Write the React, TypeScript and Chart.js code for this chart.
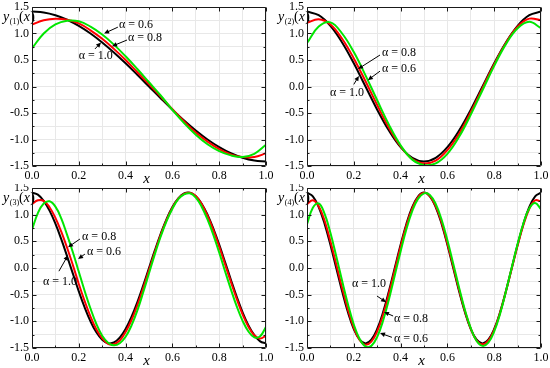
import React, { useEffect, useRef } from "react";
import { Chart, registerables } from "chart.js";
Chart.register(...registerables);

const SERIF = '"Liberation Serif", "Times New Roman", serif';

// sampling positions
const X21 = [0, 0.05, 0.1, 0.15, 0.2, 0.25, 0.3, 0.35, 0.4, 0.45, 0.5, 0.55, 0.6, 0.65, 0.7, 0.75, 0.8, 0.85, 0.9, 0.95, 1.0];
const X41 = [0, 0.025, 0.05, 0.075, 0.1, 0.125, 0.15, 0.175, 0.2, 0.225, 0.25, 0.275, 0.3, 0.325, 0.35, 0.375, 0.4, 0.425, 0.45, 0.475, 0.5,
  0.525, 0.55, 0.575, 0.6, 0.625, 0.65, 0.675, 0.7, 0.725, 0.75, 0.775, 0.8, 0.825, 0.85, 0.875, 0.9, 0.925, 0.95, 0.975, 1.0];

// panel 1: y(1)(x)
const Y1_A10 = [1.414, 1.397, 1.345, 1.26, 1.144, 1.0, 0.831, 0.642, 0.437, 0.221, 0.0, -0.221, -0.437, -0.642, -0.831, -1.0, -1.144, -1.26, -1.345, -1.397, -1.414];
const Y1_A08 = [1.17, 1.25, 1.28, 1.26, 1.19, 1.06, 0.9, 0.71, 0.5, 0.27, 0.04, -0.19, -0.43, -0.66, -0.87, -1.04, -1.18, -1.28, -1.33, -1.33, -1.26];
const Y1_A06 = [0.72, 1.0, 1.17, 1.24, 1.23, 1.13, 0.98, 0.79, 0.57, 0.33, 0.08, -0.17, -0.44, -0.69, -0.91, -1.09, -1.22, -1.3, -1.33, -1.27, -1.1];

// panel 2: y(2)(x)
const Y2_A10 = [1.414, 1.345, 1.144, 0.831, 0.437, 0.0, -0.437, -0.831, -1.144, -1.345, -1.414, -1.345, -1.144, -0.831, -0.437, 0.0, 0.437, 0.831, 1.144, 1.345, 1.414];
const Y2_A08 = [1.2, 1.27, 1.17, 0.9, 0.53, 0.1, -0.35, -0.78, -1.13, -1.37, -1.45, -1.4, -1.2, -0.89, -0.48, -0.03, 0.42, 0.82, 1.13, 1.28, 1.25];
const Y2_A06 = [0.82, 1.13, 1.21, 1.0, 0.65, 0.21, -0.26, -0.72, -1.11, -1.38, -1.48, -1.45, -1.27, -0.95, -0.53, -0.07, 0.39, 0.8, 1.1, 1.22, 1.1];

// panel 3: y(3)(x)
const Y3_A10 = [1.414, 1.375, 1.26, 1.075, 0.831, 0.541, 0.221, -0.111, -0.437, -0.739, -1.0, -1.206, -1.345, -1.41, -1.397, -1.307, -1.144, -0.918, -0.642, -0.33, 0.0,
  0.33, 0.642, 0.918, 1.144, 1.307, 1.397, 1.41, 1.345, 1.206, 1.0, 0.739, 0.437, 0.111, -0.221, -0.541, -0.831, -1.075, -1.26, -1.375, -1.414];
const Y3_A08 = [1.2, 1.27, 1.26, 1.14, 0.94, 0.68, 0.38, 0.05, -0.3, -0.62, -0.91, -1.15, -1.32, -1.42, -1.43, -1.36, -1.2, -0.98, -0.7, -0.38, -0.04,
  0.3, 0.62, 0.9, 1.13, 1.3, 1.39, 1.41, 1.35, 1.2, 0.98, 0.71, 0.4, 0.07, -0.26, -0.58, -0.87, -1.1, -1.26, -1.32, -1.27];
const Y3_A06 = [0.72, 1.03, 1.21, 1.25, 1.15, 0.93, 0.62, 0.29, -0.07, -0.43, -0.76, -1.05, -1.27, -1.4, -1.45, -1.41, -1.29, -1.08, -0.8, -0.46, -0.1,
  0.26, 0.59, 0.88, 1.11, 1.29, 1.38, 1.4, 1.32, 1.15, 0.91, 0.62, 0.29, -0.06, -0.4, -0.72, -0.99, -1.19, -1.3, -1.28, -1.1];

// panel 4: y(4)(x)
const Y4_A10 = [1.414, 1.345, 1.144, 0.831, 0.437, 0.0, -0.437, -0.831, -1.144, -1.345, -1.414, -1.345, -1.144, -0.831, -0.437, 0.0, 0.437, 0.831, 1.144, 1.345, 1.414,
  1.345, 1.144, 0.831, 0.437, 0.0, -0.437, -0.831, -1.144, -1.345, -1.414, -1.345, -1.144, -0.831, -0.437, 0.0, 0.437, 0.831, 1.144, 1.345, 1.414];
const Y4_A08 = [1.2, 1.27, 1.16, 0.89, 0.5, 0.07, -0.37, -0.78, -1.12, -1.35, -1.44, -1.38, -1.19, -0.88, -0.48, -0.04, 0.4, 0.8, 1.12, 1.33, 1.41,
  1.35, 1.16, 0.86, 0.46, 0.03, -0.41, -0.81, -1.14, -1.36, -1.43, -1.36, -1.16, -0.84, -0.44, -0.01, 0.42, 0.81, 1.11, 1.27, 1.25];
const Y4_A06 = [0.82, 1.13, 1.21, 1.02, 0.66, 0.22, -0.24, -0.68, -1.06, -1.33, -1.47, -1.46, -1.29, -0.99, -0.59, -0.14, 0.31, 0.73, 1.07, 1.3, 1.4,
  1.37, 1.2, 0.91, 0.52, 0.08, -0.37, -0.79, -1.13, -1.37, -1.46, -1.4, -1.19, -0.86, -0.44, 0.01, 0.45, 0.84, 1.12, 1.22, 1.1];

const LABEL_10 = "α = 1.0";
const LABEL_08 = "α = 0.8";
const LABEL_06 = "α = 0.6";

type Ann = { text: string; tx: number; ty: number; ax: number; ay: number; bx: number; by: number };

const ANN1: Ann[] = [
  { text: LABEL_06, tx: 0.372, ty: 1.16, ax: 0.367, ay: 1.12, bx: 0.308, by: 1.0 },
  { text: LABEL_08, tx: 0.41, ty: 0.915, ax: 0.406, ay: 0.877, bx: 0.342, by: 0.76 },
  { text: LABEL_10, tx: 0.2, ty: 0.575, ax: 0.269, ay: 0.708, bx: 0.295, by: 0.83 },
];
const ANN2: Ann[] = [
  { text: LABEL_08, tx: 0.32, ty: 0.63, ax: 0.312, ay: 0.594, bx: 0.218, by: 0.33 },
  { text: LABEL_06, tx: 0.32, ty: 0.33, ax: 0.312, ay: 0.29, bx: 0.26, by: 0.12 },
  { text: LABEL_10, tx: 0.098, ty: -0.12, ax: 0.2, ay: 0.04, bx: 0.222, by: 0.2 },
];
const ANN3: Ann[] = [
  { text: LABEL_08, tx: 0.214, ty: 0.58, ax: 0.205, ay: 0.544, bx: 0.154, by: 0.39 },
  { text: LABEL_06, tx: 0.235, ty: 0.3, ax: 0.226, ay: 0.26, bx: 0.197, by: 0.17 },
  { text: LABEL_10, tx: 0.047, ty: -0.26, ax: 0.115, ay: -0.06, bx: 0.154, by: 0.24 },
];
const ANN4: Ann[] = [
  { text: LABEL_10, tx: 0.192, ty: -0.3, ax: 0.299, ay: -0.525, bx: 0.338, by: -0.64 },
  { text: LABEL_08, tx: 0.372, ty: -0.956, ax: 0.368, ay: -0.9, bx: 0.329, by: -0.825 },
  { text: LABEL_06, tx: 0.372, ty: -1.33, ax: 0.363, ay: -1.3, bx: 0.312, by: -1.22 },
];

const decoPlugin = {
  id: "deco",
  afterDraw(chart: any, _a: any, opts: any) {
    const { ctx, chartArea: a, scales } = chart;
    const xs = scales.x;
    const ys = scales.y;
    const L = Math.round(a.left) + 0.5;
    const R = Math.round(a.right) - 0.5;
    const T = Math.round(a.top) + 0.5;
    const B = Math.round(a.bottom) - 0.5;
    ctx.save();
    ctx.strokeStyle = "#1a1a1a";
    ctx.lineWidth = 1;
    ctx.beginPath();
    ctx.rect(L, T, R - L, B - T);
    for (let k = 0; k <= 10; k++) {
      const px = Math.round(xs.getPixelForValue(k / 10)) + 0.5;
      const len = k % 2 === 0 ? 4 : 2;
      ctx.moveTo(px, B); ctx.lineTo(px, B - len);
      ctx.moveTo(px, T); ctx.lineTo(px, T + len);
    }
    for (let k = -6; k <= 6; k++) {
      const py = Math.round(ys.getPixelForValue(k / 4)) + 0.5;
      const len = Math.abs(k) % 2 === 0 ? 4 : 2;
      ctx.moveTo(L, py); ctx.lineTo(L + len, py);
      ctx.moveTo(R, py); ctx.lineTo(R - len, py);
    }
    ctx.stroke();

    // y title
    ctx.fillStyle = "#000";
    ctx.textAlign = "left";
    ctx.textBaseline = "alphabetic";
    const base = a.top + 14;
    let x = 3;
    ctx.font = `italic 14px ${SERIF}`;
    ctx.fillText("y", x, base); x += ctx.measureText("y").width + 0.5;
    ctx.font = `8px ${SERIF}`;
    const sub = `(${opts.n})`;
    ctx.fillText(sub, x, base + 3); x += ctx.measureText(sub).width;
    ctx.font = `14px ${SERIF}`;
    ctx.fillText("(", x, base); x += ctx.measureText("(").width;
    ctx.font = `italic 14px ${SERIF}`;
    ctx.fillText("x", x, base); x += ctx.measureText("x").width + 0.3;
    ctx.font = `14px ${SERIF}`;
    ctx.fillText(")", x, base);

    // x title
    ctx.textAlign = "center";
    ctx.font = `italic 15px ${SERIF}`;
    ctx.fillText("x", a.left + (a.right - a.left) * 0.49, a.bottom + 17);

    // annotations
    ctx.font = `12px ${SERIF}`;
    ctx.textAlign = "left";
    ctx.textBaseline = "middle";
    ctx.lineWidth = 1;
    ctx.strokeStyle = "#000";
    for (const an of opts.anns as Ann[]) {
      ctx.fillText(an.text, xs.getPixelForValue(an.tx), ys.getPixelForValue(an.ty));
      const x1 = xs.getPixelForValue(an.ax), y1 = ys.getPixelForValue(an.ay);
      const x2 = xs.getPixelForValue(an.bx), y2 = ys.getPixelForValue(an.by);
      const ang = Math.atan2(y2 - y1, x2 - x1);
      const hl = 5, hw = 2.3;
      ctx.beginPath();
      ctx.moveTo(x1, y1);
      ctx.lineTo(x2 - hl * 0.8 * Math.cos(ang), y2 - hl * 0.8 * Math.sin(ang));
      ctx.stroke();
      ctx.beginPath();
      ctx.moveTo(x2, y2);
      ctx.lineTo(x2 - hl * Math.cos(ang) + hw * Math.sin(ang), y2 - hl * Math.sin(ang) - hw * Math.cos(ang));
      ctx.lineTo(x2 - hl * Math.cos(ang) - hw * Math.sin(ang), y2 - hl * Math.sin(ang) + hw * Math.cos(ang));
      ctx.closePath();
      ctx.fill();
    }
    ctx.restore();
  },
};

type PanelProps = {
  n: number; left: number; top: number; padTop: number; xHeight: number;
  xs: number[]; a10: number[]; a08: number[]; a06: number[]; anns: Ann[];
};

const W = 275;
const H = 184;

function toPts(xs: number[], ys: number[]) {
  return xs.map((x, i) => ({ x, y: ys[i] }));
}

function Panel(p: PanelProps) {
  const ref = useRef<HTMLCanvasElement>(null);
  useEffect(() => {
    if (!ref.current) return;
    const line = (data: number[], color: string) => ({
      data: toPts(p.xs, data),
      borderColor: color,
      backgroundColor: color,
      borderWidth: 2,
      pointRadius: 0,
      tension: 0.4,
      fill: false,
    });
    const chart = new Chart(ref.current, {
      type: "line",
      data: {
        datasets: [line(p.a06, "#00e600"), line(p.a08, "#ff0000"), line(p.a10, "#000000")],
      },
      options: {
        animation: false,
        responsive: false,
        maintainAspectRatio: false,
        devicePixelRatio: 1,
        events: [],
        layout: { padding: { top: p.padTop, right: 9, left: 0, bottom: 0 } },
        plugins: {
          legend: { display: false },
          tooltip: { enabled: false },
          deco: { n: p.n, anns: p.anns },
        } as any,
        scales: {
          x: {
            type: "linear",
            min: 0,
            max: 1,
            border: { display: false },
            grid: { color: "#e8e8e8", drawTicks: false },
            ticks: {
              stepSize: 0.1,
              autoSkip: false,
              maxRotation: 0,
              padding: 3,
              color: "#000",
              font: { family: SERIF, size: 12 },
              callback: (v: any) => (Math.round(Number(v) * 10) % 2 === 0 ? Number(v).toFixed(1) : ""),
            },
            afterFit: (s: any) => { s.height = p.xHeight; s.paddingLeft = 0; s.paddingRight = 0; },
          },
          y: {
            type: "linear",
            min: -1.5,
            max: 1.5,
            border: { display: false },
            grid: { color: "#e8e8e8", drawTicks: false },
            ticks: {
              stepSize: 0.25,
              autoSkip: false,
              padding: 3,
              color: "#000",
              font: { family: SERIF, size: 12 },
              callback: (v: any) => (Math.abs(Math.round(Number(v) * 4)) % 2 === 0 ? Number(v).toFixed(1) : ""),
            },
            afterFit: (s: any) => { s.width = 32; s.paddingTop = 0; s.paddingBottom = 0; },
          },
        },
      },
      plugins: [decoPlugin],
    } as any);
    return () => chart.destroy();
  }, []);
  return (
    <div style={{ position: "absolute", left: p.left, top: p.top, width: W, height: H }}>
      <canvas ref={ref} width={W} height={H} style={{ width: W, height: H, display: "block" }} />
    </div>
  );
}

export default function App() {
  return (
    <div style={{ position: "absolute", left: 0, top: 0, width: 550, height: 368, background: "#fff", overflow: "hidden" }}>
      <Panel n={1} left={0} top={0} padTop={7} xHeight={18} xs={X21} a10={Y1_A10} a08={Y1_A08} a06={Y1_A06} anns={ANN1} />
      <Panel n={2} left={275} top={0} padTop={7} xHeight={18} xs={X21} a10={Y2_A10} a08={Y2_A08} a06={Y2_A06} anns={ANN2} />
      <Panel n={3} left={0} top={184} padTop={4} xHeight={20} xs={X41} a10={Y3_A10} a08={Y3_A08} a06={Y3_A06} anns={ANN3} />
      <Panel n={4} left={275} top={184} padTop={4} xHeight={20} xs={X41} a10={Y4_A10} a08={Y4_A08} a06={Y4_A06} anns={ANN4} />
    </div>
  );
}
